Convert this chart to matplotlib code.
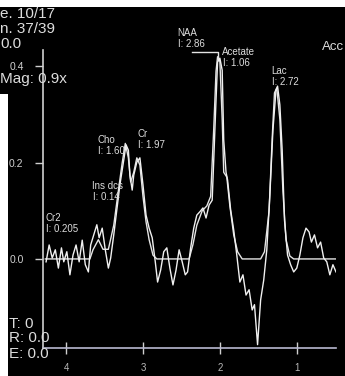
import matplotlib
matplotlib.use("Agg")
import matplotlib.pyplot as plt
from matplotlib.lines import Line2D
from matplotlib.patches import Rectangle

# ---- data ----
raw_ppm = [4.26, 4.22, 4.18, 4.14, 4.10, 4.06, 4.03, 3.99, 3.95, 3.91, 3.87, 3.83, 3.79, 3.75,
           3.71, 3.68, 3.64, 3.60, 3.57, 3.53, 3.49, 3.45, 3.42, 3.38, 3.34, 3.30, 3.26, 3.22,
           3.19, 3.17, 3.14, 3.12, 3.08, 3.04, 3.00, 2.96, 2.92, 2.88, 2.84, 2.81, 2.77, 2.73,
           2.69, 2.65, 2.61, 2.57, 2.53, 2.49, 2.45, 2.42, 2.38, 2.34, 2.30, 2.26, 2.22, 2.18,
           2.14, 2.10, 2.08, 2.05, 2.03, 2.00, 1.97, 1.95, 1.92, 1.90, 1.86, 1.82, 1.78, 1.74,
           1.70, 1.66, 1.62, 1.58, 1.55, 1.51, 1.47, 1.43, 1.39, 1.35, 1.31, 1.27, 1.25, 1.22,
           1.19, 1.16, 1.12, 1.08, 1.04, 1.00, 0.96, 0.92, 0.88, 0.84, 0.81, 0.77, 0.73, 0.69,
           0.65, 0.61, 0.57, 0.53, 0.49]
raw_amp = [-0.006, 0.029, 0.002, 0.019, -0.019, 0.023, -0.006, 0.015, -0.033, 0.008, 0.029, -0.006,
           0.039, -0.012, -0.027, 0.029, 0.050, 0.071, 0.044, 0.064, 0.019, -0.019, 0.002, 0.050,
           0.102, 0.154, 0.195, 0.237, 0.226, 0.174, 0.143, 0.174, 0.201, 0.210, 0.154, 0.091,
           0.064, 0.044, -0.006, -0.048, -0.023, 0.015, 0.023, -0.019, -0.054, -0.023, 0.019,
           -0.006, -0.033, -0.027, 0.023, 0.064, 0.091, 0.098, 0.106, 0.085, 0.112, 0.122, 0.205,
           0.330, 0.409, 0.417, 0.392, 0.247, 0.180, 0.164, 0.102, 0.060, 0.008, -0.048, -0.033,
           -0.075, -0.064, -0.106, -0.095, -0.178, -0.085, -0.044, 0.019, 0.133, 0.268, 0.351,
           0.359, 0.320, 0.226, 0.081, 0.008, -0.012, -0.027, -0.019, 0.008, 0.044, 0.064, 0.056,
           0.035, 0.050, 0.023, 0.035, 0.002, -0.006, -0.033, -0.012, -0.027]

fit_ppm = [4.27, 3.69, 3.65, 3.58, 3.52, 3.45, 3.38, 3.33, 3.27, 3.23, 3.19, 3.16, 3.12, 3.08,
           3.04, 3.00, 2.96, 2.92, 2.87, 2.82, 2.40, 2.35, 2.30, 2.23, 2.17, 2.12, 2.08, 2.05,
           2.03, 2.00, 1.97, 1.95, 1.91, 1.87, 1.82, 1.77, 1.71, 1.47, 1.42, 1.36, 1.32, 1.29,
           1.26, 1.22, 1.18, 1.14, 1.09, 1.04, 0.49]
fit_amp = [0.0, 0.0, 0.019, 0.040, 0.020, 0.020, 0.070, 0.130, 0.200, 0.240, 0.210, 0.160, 0.180,
           0.210, 0.195, 0.130, 0.077, 0.040, 0.008, 0.0, 0.0, 0.030, 0.070, 0.100, 0.110, 0.130,
           0.270, 0.390, 0.420, 0.410, 0.290, 0.180, 0.170, 0.110, 0.050, 0.015, 0.0, 0.0, 0.015,
           0.100, 0.250, 0.345, 0.355, 0.290, 0.140, 0.040, 0.006, 0.0, 0.0]

x_ticks = [4, 3, 2, 1]
y_ticks = [0.0, 0.2, 0.4]
y_ticklabels = ["0.0", "0.2", "0.4"]

peak_names = ["Cr2", "Ins dcs", "Cho", "Cr", "NAA", "Acetate", "Lac"]
peak_integrals = ["0.205", "0.14", "1.60", "1.97", "2.86", "1.06", "2.72"]

header_lines = ["e. 10/17", "n. 37/39", "0.0", "Mag: 0.9x"]
footer_lines = ["T: 0", "R: 0.0", "E: 0.0"]

# ---- figure ----
W, H = 345, 376
plt.rcParams['font.family'] = ['Liberation Sans', 'DejaVu Sans']
fig = plt.figure(figsize=(W / 100, H / 100), dpi=100, facecolor='white')


def fx(x):
    return x / W


def fy(y):
    return 1 - y / H


# black screen background (white margin at top and along the lower left edge)
fig.patches.append(Rectangle((fx(0), fy(94)), 1, fy(7) - fy(94), transform=fig.transFigure,
                             facecolor='black', edgecolor='none', zorder=-5))
fig.patches.append(Rectangle((fx(8), 0), 1, fy(94) + 0.002, transform=fig.transFigure,
                             facecolor='black', edgecolor='none', zorder=-5))

ax = fig.add_axes([fx(43), fy(348), (336 - 43) / W, (348 - 50) / H])
ax.set_zorder(2)
ax.set_facecolor('none')
ax.set_xlim(4.30, 0.49)
ax.set_ylim(-0.185, 0.434)

lc = '#e4e4e4'
ax.plot(fit_ppm, fit_amp, color=lc, lw=1.0, zorder=3)
ax.plot(raw_ppm, raw_amp, color='#f0f0f0', lw=1.0, zorder=4)

for s in ['top', 'right']:
    ax.spines[s].set_visible(False)
ax.spines['left'].set_color('#cfcfcf')
ax.spines['bottom'].set_color('#b8b8d0')
ax.spines['left'].set_linewidth(1.2)
ax.spines['bottom'].set_linewidth(1.2)

ax.set_xticks(x_ticks)
ax.set_xticklabels([str(t) for t in x_ticks])
ax.set_yticks(y_ticks)
ax.set_yticklabels(y_ticklabels)
ax.tick_params(axis='y', direction='out', length=6, width=1, color='#cfcfcf',
               labelcolor='#d0d0d0', labelsize=7.5, pad=8)
ax.tick_params(axis='x', direction='inout', length=9, width=1, color='#cfcfcf',
               labelcolor='#b8b8b8', labelsize=7, pad=6)

# header / footer text
tc = '#dcdcdc'
for txt, (x, y) in zip(header_lines, [(0, 14), (0, 29), (0, 44), (0, 79)]):
    fig.text(fx(x), fy(y), txt, color=tc, fontsize=11, va='center', ha='left')
for txt, (x, y) in zip(footer_lines, [(9, 324), (9, 338), (9, 354)]):
    fig.text(fx(x), fy(y), txt, color=tc, fontsize=11, va='center', ha='left')
fig.text(fx(322), fy(47), "Acc", color=tc, fontsize=9.5, va='center', ha='left')

# peak labels
label_pos = [(45, 218), (92, 186), (97, 140), (137, 134), (177, 33), (222, 52), (271, 71)]
for name, integ, (x, y) in zip(peak_names, peak_integrals, label_pos):
    fig.text(fx(x), fy(y), name, color=tc, fontsize=7, va='center', ha='left')
    fig.text(fx(x + 1), fy(y + 11), "I: " + integ, color=tc, fontsize=7, va='center', ha='left')

# NAA leader
fig.add_artist(Line2D([fx(192), fx(218), fx(218)], [fy(52), fy(52), fy(60)],
                      color=lc, lw=1.0, transform=fig.transFigure))

fig.savefig("out.png", dpi=100, facecolor='white')
